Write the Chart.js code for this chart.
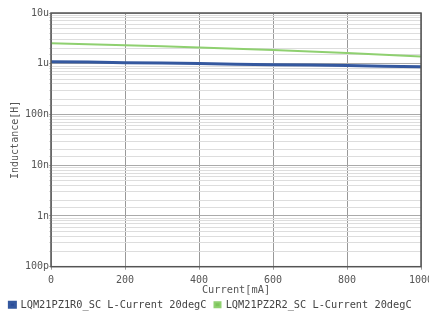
<!DOCTYPE html>
<html>
<head>
<meta charset="utf-8">
<script src="https://cdn.jsdelivr.net/npm/chart.js@4"></script>
<style>
  html, body { margin: 0; padding: 0; background: #fff; }
  #wrap { width: 429px; height: 320px; }
</style>
</head>
<body>
<div id="wrap"><canvas id="chart" width="429" height="320"></canvas></div>
<script>
// ===== DATA =====
const currentMA = [0, 100, 200, 300, 400, 500, 600, 700, 800, 900, 1000];
const lqm1r0 = [1.10e-6, 1.08e-6, 1.05e-6, 1.03e-6, 1.01e-6, 0.98e-6, 0.96e-6, 0.94e-6, 0.92e-6, 0.89e-6, 0.87e-6];
const lqm2r2 = [2.52e-6, 2.42e-6, 2.32e-6, 2.20e-6, 2.08e-6, 1.98e-6, 1.86e-6, 1.74e-6, 1.62e-6, 1.50e-6, 1.39e-6];
const seriesNames = ["LQM21PZ1R0_SC L-Current 20degC", "LQM21PZ2R2_SC L-Current 20degC"];
const decadeLabels = {"-10": "100p", "-9": "1n", "-8": "10n", "-7": "100n", "-6": "1u", "-5": "10u"};

const mono = "'DejaVu Sans Mono', monospace";

function isDecade(v) {
  const e = Math.log10(v);
  return Math.abs(e - Math.round(e)) < 1e-6;
}

// border round the plot area
const frame = {
  id: "frame",
  afterDraw(chart) {
    const a = chart.chartArea, c = chart.ctx;
    c.save();
    c.strokeStyle = "#555";
    c.lineWidth = 1.5;
    c.strokeRect(a.left, a.top, a.right - a.left, a.bottom - a.top);
    c.restore();
  }
};

new Chart(document.getElementById("chart"), {
  type: "line",
  data: {
    datasets: [
      {label: seriesNames[0], data: currentMA.map((x, i) => ({x: x, y: lqm1r0[i]})),
       borderColor: "#34589f", backgroundColor: "#2a4a9a", borderWidth: 3, pointRadius: 0, tension: 0},
      {label: seriesNames[1], data: currentMA.map((x, i) => ({x: x, y: lqm2r2[i]})),
       borderColor: "#8fd070", backgroundColor: "#7cc55a", borderWidth: 2, pointRadius: 0, tension: 0}
    ]
  },
  options: {
    responsive: false,
    animation: false,
    layout: {padding: {top: 13, right: 8, bottom: 0, left: 0}},
    plugins: {
      legend: {
        position: "bottom",
        labels: {
          boxWidth: 6, boxHeight: 5, padding: 8,
          color: "#444",
          font: {family: mono, size: 10.3}
        }
      },
      tooltip: {enabled: false}
    },
    scales: {
      x: {
        type: "linear", min: 0, max: 1000,
        ticks: {stepSize: 200, color: "#555", font: {family: mono, size: 10}, padding: 5, maxRotation: 0,
                callback: v => String(v)},
        grid: {color: "#999", lineWidth: 1, tickLength: 3},
        border: {display: false},
        title: {display: true, text: "Current[mA]", color: "#555", font: {family: mono, size: 10.3}, padding: {top: 0, bottom: -5}},
        afterFit(s) { s.height = 25; s.paddingLeft = 0; s.paddingRight = 0; }
      },
      y: {
        type: "logarithmic", min: 1e-10, max: 1e-5,
        ticks: {
          autoSkip: false, color: "#555", font: {family: mono, size: 10}, padding: 0,
          callback: v => isDecade(v) ? decadeLabels[String(Math.round(Math.log10(v)))] : ""
        },
        grid: {
          color: ctx => isDecade(ctx.tick.value) ? "#aaa" : "#ddd",
          lineWidth: 1, tickLength: 2
        },
        border: {display: false},
        title: {display: true, text: "Inductance[H]", color: "#555", font: {family: mono, size: 10}, padding: {top: 9, bottom: 0}},
        afterFit(s) { s.width = 51; s.paddingTop = 0; s.paddingBottom = 0; }
      }
    }
  },
  plugins: [frame]
});
</script>
</body>
</html>
